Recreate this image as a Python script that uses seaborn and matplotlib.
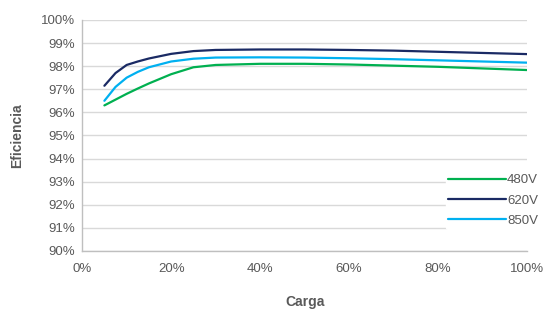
import numpy as np
import pandas as pd
import matplotlib
matplotlib.use("Agg")
import matplotlib.pyplot as plt
import seaborn as sns
from matplotlib.ticker import PercentFormatter

carga = [5, 7.5, 10, 12.5, 15, 20, 25, 30, 40, 50, 60, 70, 80, 90, 100]
ef_480 = [96.30, 96.55, 96.80, 97.03, 97.25, 97.65, 97.95, 98.05, 98.10, 98.10, 98.07, 98.02, 97.97, 97.90, 97.83]
ef_620 = [97.15, 97.70, 98.05, 98.20, 98.33, 98.53, 98.65, 98.70, 98.72, 98.72, 98.70, 98.67, 98.62, 98.57, 98.52]
ef_850 = [96.50, 97.10, 97.50, 97.75, 97.95, 98.20, 98.32, 98.37, 98.38, 98.37, 98.34, 98.30, 98.25, 98.20, 98.15]
series = ["480V", "620V", "850V"]
colors = ["#00B050", "#1A2A64", "#00B0F0"]

df = pd.concat([
    pd.DataFrame({"Carga": carga, "Eficiencia": v, "Serie": s})
    for s, v in zip(series, [ef_480, ef_620, ef_850])
])

sns.set_theme(style="white")
plt.rcParams["font.family"] = ["Liberation Sans", "DejaVu Sans"]

fig = plt.figure(figsize=(5.44, 3.11), dpi=100)
ax = fig.add_axes([0.151, 0.193, 0.818, 0.743])
sns.lineplot(data=df, x="Carga", y="Eficiencia", hue="Serie", palette=colors,
             linewidth=1.6, ax=ax)

ax.set_xlim(0, 100)
ax.set_ylim(90, 100)
ax.set_xticks(np.arange(0, 101, 20))
ax.set_yticks(np.arange(90, 100.1, 1))
ax.xaxis.set_major_formatter(PercentFormatter(decimals=0))
ax.yaxis.set_major_formatter(PercentFormatter(decimals=0))
ax.grid(axis="y", color="#D9D9D9", linewidth=1.0)
ax.set_axisbelow(True)
for s in ["top", "right"]:
    ax.spines[s].set_visible(False)
for s in ["left", "bottom"]:
    ax.spines[s].set_color("#BFBFBF")
    ax.spines[s].set_linewidth(1.0)
ax.tick_params(axis="both", colors="#595959", labelsize=9.5, length=0, pad=5)
ax.tick_params(axis="x", pad=9)
ax.set_xlabel("Carga", fontsize=10, fontweight="bold", color="#595959", labelpad=14)
ax.set_ylabel("Eficiencia", fontsize=10, fontweight="bold", color="#595959", labelpad=12)

leg = ax.legend(loc="lower right", bbox_to_anchor=(1.045, 0.065), frameon=True,
                facecolor="white", edgecolor="white", framealpha=1,
                handlelength=4.4, handletextpad=0.05, labelspacing=0.6,
                fontsize=9.5, borderpad=0.2, title=None)
for t in leg.get_texts():
    t.set_color("#595959")

fig.savefig("out.png", dpi=100)
